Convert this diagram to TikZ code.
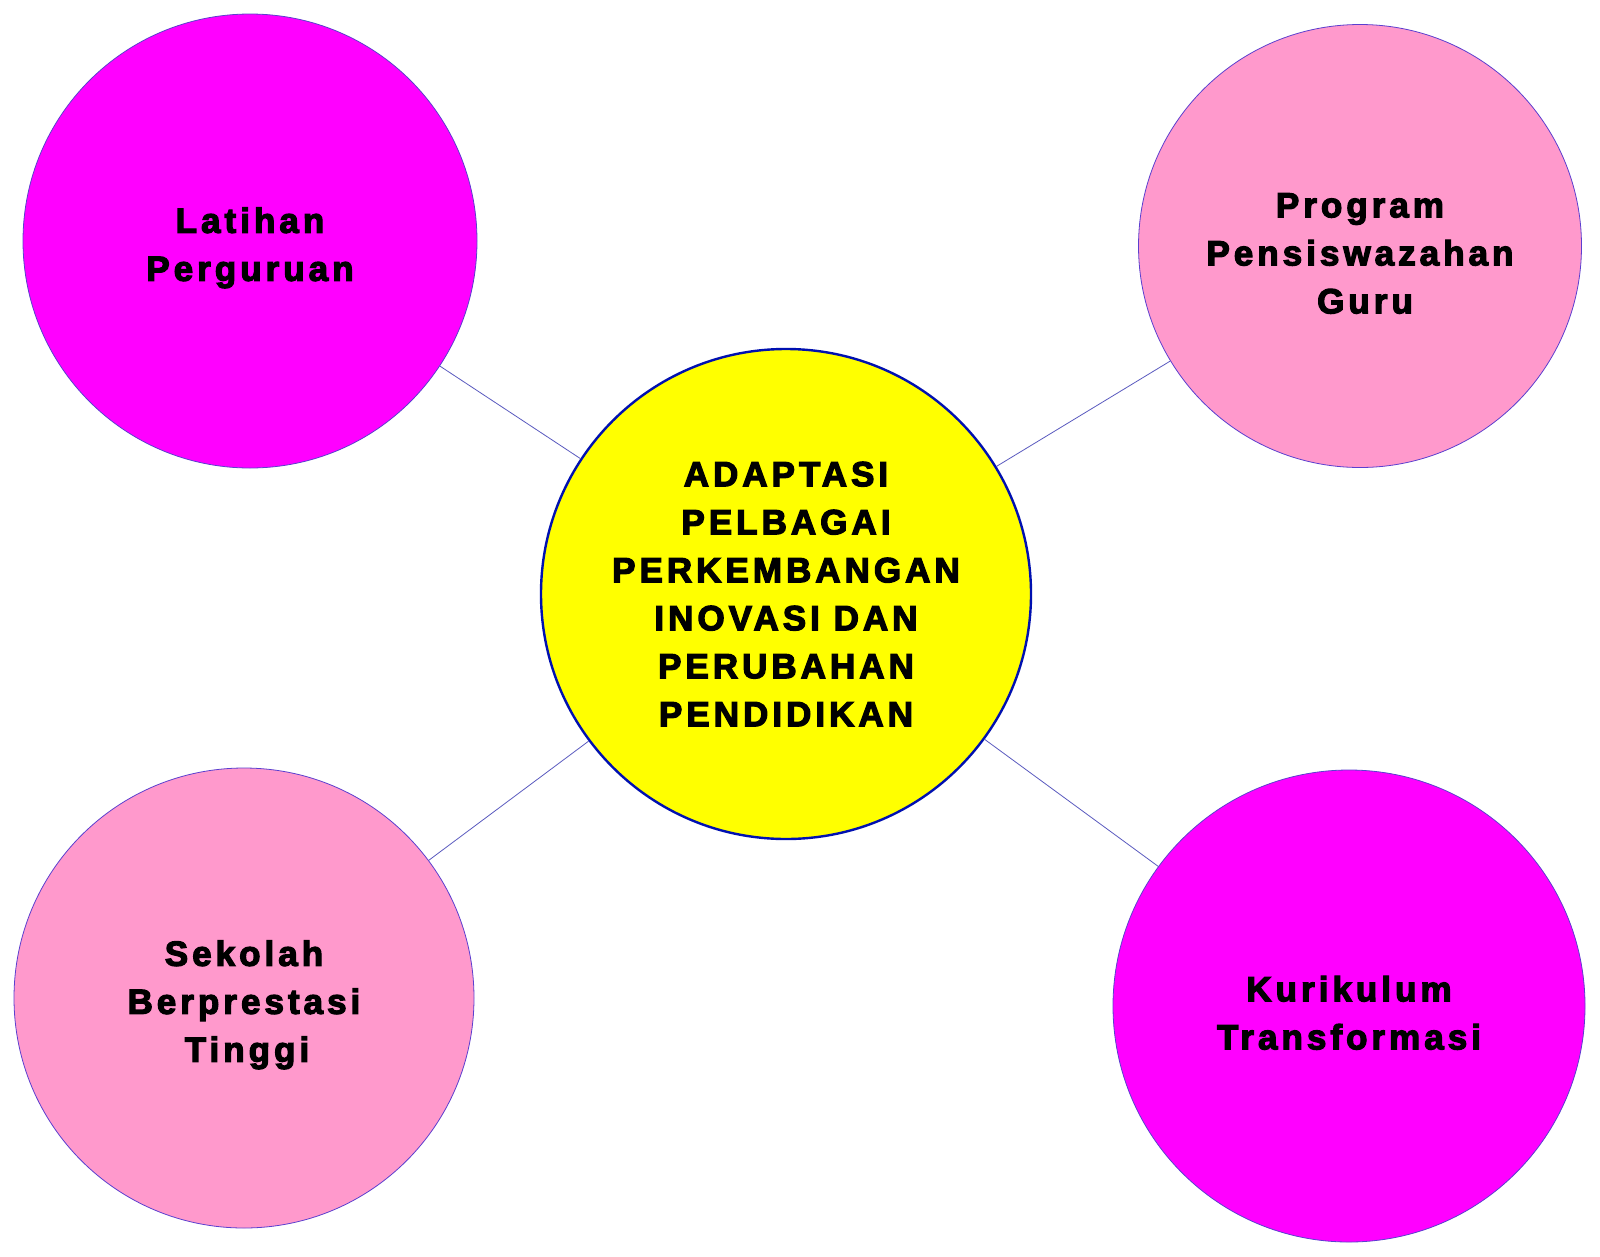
\documentclass[tikz,border=0pt]{standalone}
\usepackage{fontspec}
\setmainfont{Liberation Sans}[BoldFont={* Bold},BoldFeatures={LetterSpace=11.5,FakeBold=3.5}]
\definecolor{magentaA}{HTML}{FF00FF}
\definecolor{pinkA}{HTML}{FF99CC}
\definecolor{yellowA}{HTML}{FFFF00}
\definecolor{rimA}{HTML}{5B3FCF}
\definecolor{linkA}{HTML}{5A5ABF}
\definecolor{centerrim}{HTML}{0010B0}
\newcommand{\dropstrut}{\rule{0pt}{39pt}}
\begin{document}
\begin{tikzpicture}[x=1pt,y=-1pt,
  bubble/.style={circle,inner sep=0pt,draw=rimA,line width=0.8pt,align=center,
    font=\fontsize{35}{48}\selectfont\bfseries,text=black},
  hub/.style={circle,inner sep=0pt,draw=centerrim,line width=2.4pt,fill=yellowA,align=center,
    font=\fontsize{35}{48}\selectfont\bfseries,text=black},
  link/.style={draw=linkA,line width=0.8pt}]
\useasboundingbox[fill=white] (0,0) rectangle (1600,1256);
\node[hub,minimum size=490pt] (c) at (786,594)
  {ADAPTASI\hspace{13pt}\\PELBAGAI\hspace{11pt}\\PERKEMBANGAN\\INOVASI DAN\\PERUBAHAN\hspace{13pt}\\PENDIDIKAN};
\node[bubble,fill=magentaA,minimum size=454pt] (tl) at (250,241)
  {\dropstrut Latihan\hspace{13pt}\\Perguruan};
\node[bubble,fill=pinkA,minimum size=443pt] (tr) at (1360,246)
  {\dropstrut Program\hspace{14pt}\\Pensiswazahan\\\hspace*{10pt}Guru};
\node[bubble,fill=pinkA,minimum size=460pt] (bl) at (244,998)
  {\dropstrut Sekolah\hspace{12pt}\\Berprestasi\hspace{12pt}\\\hspace*{6pt}Tinggi};
\node[bubble,fill=magentaA,minimum size=472pt] (br) at (1349,1006)
  {\dropstrut Kurikulum\hspace{18pt}\\Transformasi};
\draw[link] (c) -- (tl);
\draw[link] (c) -- (tr);
\draw[link] (c) -- (bl);
\draw[link] (c) -- (br);
\end{tikzpicture}
\end{document}
